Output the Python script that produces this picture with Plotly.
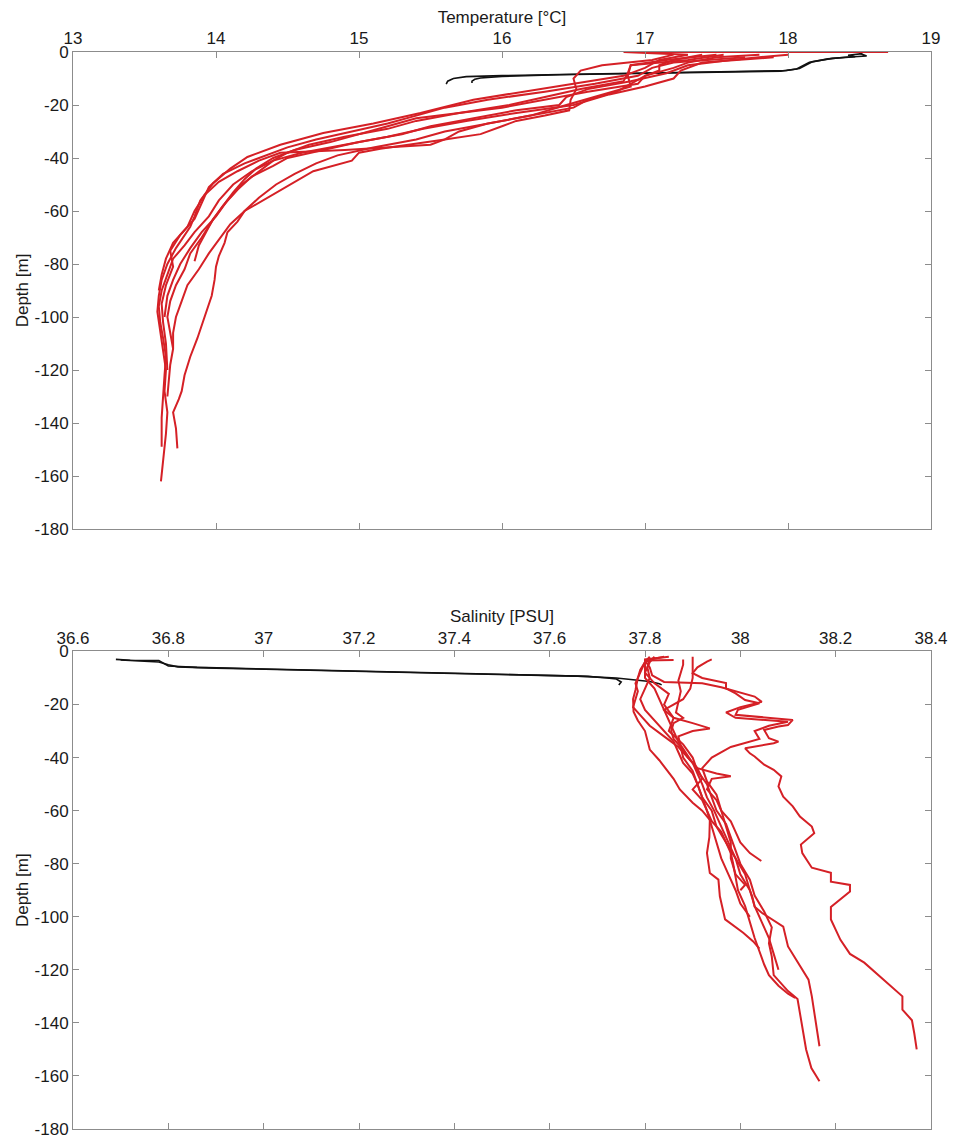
import plotly.graph_objects as go

# ---------------- Temperature casts (depth [m], temperature [°C]) ----------------
t_depth_1 = [0, 0, -1, -3, -6, -9, -12, -15, -18, -23, -27, -30.6, -35, -39.6, -44, -49.5, -56, -62, -66, -74, -80, -86, -92, -98, -105, -112, -120, -128, -136, -144, -150, -156, -162]
t_temp_1 = [18.7, 16.85, 17.3, 17.1, 17.0, 16.85, 16.5, 16.15, 15.8, 15.43, 15.1, 14.75, 14.45, 14.22, 14.1, 13.98, 13.89, 13.85, 13.82, 13.72, 13.66, 13.62, 13.6, 13.59, 13.61, 13.63, 13.65, 13.64, 13.66, 13.65, 13.64, 13.63, 13.615]

t_depth_2 = [-1, -3, -5, -9, -13, -16, -20, -24, -27, -30, -33, -36, -39, -42, -46, -50, -55, -60, -64, -68, -72, -77, -81, -86, -92, -97, -102, -108, -115, -122, -128, -131, -136, -142, -149.6]
t_temp_2 = [17.55, 17.3, 16.9, 16.88, 16.9, 16.7, 16.45, 16.2, 15.9, 15.6, 15.4, 15.1, 14.85, 14.7, 14.55, 14.42, 14.3, 14.2, 14.15, 14.08, 14.06, 14.02, 14.0, 13.99, 13.97, 13.94, 13.91, 13.87, 13.82, 13.78, 13.76, 13.74, 13.7, 13.72, 13.73]

t_depth_3 = [-2, -4, -7, -10, -13, -16, -20, -23, -26, -29, -32, -35, -38, -41, -45, -50, -56, -62, -68, -73, -78, -84, -90, -96, -102, -108, -115, -122, -130, -138, -144, -149]
t_temp_3 = [17.9, 17.4, 17.25, 17.2, 17.0, 16.75, 16.5, 16.1, 15.75, 15.45, 15.2, 14.9, 14.6, 14.4, 14.25, 14.12, 14.02, 13.95, 13.85, 13.78, 13.7, 13.66, 13.62, 13.6, 13.61, 13.63, 13.65, 13.64, 13.63, 13.62, 13.62, 13.62]

t_depth_4 = [-1, -3, -5, -7, -10, -14, -18, -22, -24, -26, -28, -31, -33, -35, -36.5, -38, -41, -45, -50, -55, -60, -65, -70, -76, -82, -88, -94, -100, -106, -112, -118, -124, -130]
t_temp_4 = [17.2, 17.05, 16.7, 16.55, 16.5, 16.52, 16.48, 16.47, 16.3, 16.1, 16.0, 15.85, 15.6, 15.35, 15.15, 15.0, 14.95, 14.68, 14.52, 14.35, 14.2, 14.1, 14.03, 13.95, 13.88, 13.8, 13.76, 13.72, 13.7, 13.7, 13.68, 13.67, 13.66]

t_depth_5 = [-1, -3, -5, -8, -11, -14, -17, -20, -22, -25, -28, -31, -34, -37, -40, -43, -47, -52, -58, -64, -70, -76, -82, -88, -94, -100, -106, -112]
t_temp_5 = [18.0, 17.6, 17.3, 17.15, 16.9, 16.6, 16.45, 16.4, 16.1, 15.8, 15.5, 15.3, 15.0, 14.75, 14.5, 14.4, 14.25, 14.15, 14.05, 13.97, 13.9, 13.82, 13.78, 13.72, 13.68, 13.66, 13.68, 13.7]

t_depth_6 = [-1, -2, -4, -6, -9, -12, -15, -18, -21, -24, -27, -30, -33, -35, -37, -38, -41, -45, -49, -54, -60, -66, -72, -78, -84, -90]
t_temp_6 = [17.8, 17.5, 17.3, 17.2, 17.0, 16.9, 16.8, 16.6, 16.5, 16.2, 15.9, 15.7, 15.6, 15.5, 14.9, 14.45, 14.3, 14.15, 14.02, 13.92, 13.85, 13.8, 13.7, 13.65, 13.62, 13.6]

t_depth_7 = [-1, -3, -5, -7, -9, -12, -15, -18, -21, -23, -25, -28, -31, -34, -37, -40, -44, -48, -53, -58, -63, -68, -73, -79]
t_temp_7 = [17.4, 17.2, 17.1, 17.1, 17.0, 16.95, 16.6, 16.3, 16.0, 15.7, 15.4, 15.2, 15.0, 14.8, 14.55, 14.4, 14.28, 14.2, 14.12, 14.05, 13.98, 13.93, 13.88, 13.85]

t_depth_8 = [-1, -3, -5, -8, -11, -14, -17, -20, -23, -26, -29, -32, -35, -38, -41, -45, -50, -56, -62, -68, -74, -80, -86, -92, -100]
t_temp_8 = [17.5, 17.15, 16.9, 16.88, 16.85, 16.55, 16.3, 16.05, 15.7, 15.4, 15.2, 14.9, 14.65, 14.5, 14.4, 14.3, 14.18, 14.08, 14.0, 13.9, 13.82, 13.75, 13.7, 13.66, 13.64]

t_depth_9 = [-2, -4, -6, -9, -12, -15, -18, -21, -24, -27, -30, -33, -36, -39, -42, -46, -51, -57, -63, -69, -75, -81, -88, -95, -102, -110, -120]
t_temp_9 = [17.7, 17.2, 17.05, 16.95, 16.65, 16.3, 15.9, 15.6, 15.4, 15.2, 14.95, 14.7, 14.5, 14.35, 14.2, 14.05, 13.95, 13.9, 13.85, 13.75, 13.68, 13.7, 13.65, 13.62, 13.63, 13.65, 13.66]

# surface (black) casts
tk_depth_1 = [-0.6, -1.2, -1.8, -2.4, -3.7, -5, -6.2, -7.0, -7.4, -7.9, -8.4, -8.9, -9.3, -10.0, -11.0, -12.1]
tk_temp_1 = [18.52, 18.42, 18.47, 18.31, 18.17, 18.12, 18.08, 17.99, 17.47, 17.0, 16.5, 16.0, 15.75, 15.66, 15.62, 15.61]
tk_depth_2 = [-0.5, -1.5, -2.0, -2.6, -3.9, -5.2, -6.4, -7.2, -7.6, -8.1, -8.6, -9.2, -9.8, -10.3, -11.0, -11.7]
tk_temp_2 = [18.5, 18.55, 18.4, 18.28, 18.15, 18.1, 18.06, 17.95, 17.4, 16.9, 16.4, 16.0, 15.85, 15.81, 15.79, 15.79]

# ---------------- Salinity casts (depth [m], salinity [PSU]) ----------------
s_depth_1 = [-2, -4, -8, -12, -16, -20, -25, -30, -35, -40, -45, -50, -55, -60, -65, -70, -75, -80, -86, -92, -98, -104, -110, -115, -122, -128, -131, -139, -150, -157, -162]
s_sal_1 = [37.82, 37.81, 37.80, 37.82, 37.85, 37.84, 37.86, 37.85, 37.88, 37.90, 37.91, 37.93, 37.94, 37.95, 37.97, 37.98, 37.99, 38.0, 38.02, 38.03, 38.05, 38.066, 38.06, 38.066, 38.07, 38.10, 38.12, 38.128, 38.138, 38.149, 38.166]

s_depth_2 = [-3, -3.8, -6, -8.2, -10, -11.9, -13.9, -15.8, -18.3, -19.5, -22, -23.9, -25.8, -27.7, -28.3, -29.6, -32.7, -34, -34.6, -36.5, -38.4, -39.6, -42.7, -44.6, -47.1, -50.9, -54.7, -58.4, -62.2, -66, -68.5, -72.8, -76, -81.5, -83.4, -86.8, -88, -90.5, -96.3, -101, -108.7, -114, -117.3, -123.7, -126.8, -130, -135, -139, -144, -150]
s_sal_2 = [37.94, 37.93, 37.91, 37.90, 37.92, 37.97, 37.97, 37.99, 38.01, 38.04, 37.995, 37.99, 38.11, 38.10, 38.08, 38.05, 38.06, 38.08, 38.07, 38.01, 38.02, 38.03, 38.05, 38.07, 38.086, 38.08, 38.09, 38.11, 38.125, 38.15, 38.155, 38.127, 38.13, 38.15, 38.19, 38.19, 38.23, 38.23, 38.19, 38.19, 38.21, 38.23, 38.26, 38.30, 38.32, 38.34, 38.34, 38.36, 38.365, 38.37]

s_depth_3 = [-2, -3, -6, -10, -14, -18, -22, -26, -30, -34, -38, -42, -46, -50, -55, -60, -66, -72, -78, -84, -90, -92.4, -96.2, -98.5, -101, -103.7, -111.2, -117.4, -123.7, -130, -136, -142.6, -148.8]
s_sal_3 = [37.84, 37.81, 37.805, 37.81, 37.80, 37.79, 37.80, 37.82, 37.84, 37.86, 37.87, 37.88, 37.90, 37.91, 37.92, 37.94, 37.95, 37.97, 37.99, 38.0, 38.02, 38.025, 38.03, 38.045, 38.066, 38.09, 38.10, 38.122, 38.143, 38.15, 38.155, 38.16, 38.166]

s_depth_4 = [-2, -4, -8, -12, -15, -18, -21, -24, -28, -32, -36, -40, -44, -48, -52, -56, -60, -64, -68, -72, -76, -80, -85, -90, -96, -102, -108, -113, -118, -122, -126, -129, -130.6]
s_sal_4 = [37.81, 37.80, 37.79, 37.78, 37.785, 37.78, 37.775, 37.79, 37.81, 37.84, 37.87, 37.89, 37.91, 37.92, 37.90, 37.92, 37.93, 37.94, 37.96, 37.97, 37.98, 37.985, 37.99, 37.995, 38.01, 38.02, 38.03, 38.04, 38.05, 38.06, 38.08, 38.10, 38.115]

s_depth_5 = [-2.5, -4, -7, -10, -14.5, -18, -22.7, -26, -30, -34, -37, -41, -44.6, -48, -52, -57, -60, -63.5, -70, -76, -83.5, -86, -92.3, -101, -106, -109.3, -112]
s_sal_5 = [37.82, 37.80, 37.79, 37.785, 37.78, 37.775, 37.776, 37.785, 37.80, 37.805, 37.81, 37.83, 37.845, 37.86, 37.873, 37.90, 37.92, 37.936, 37.935, 37.93, 37.936, 37.954, 37.957, 37.968, 38.006, 38.027, 38.04]

s_depth_6 = [-3.2, -3.4, -6, -9, -11.5, -12, -13.5, -15, -17, -19, -21, -23, -25, -26.5, -28, -30, -33, -36, -40, -44, -49, -54, -60, -66, -72, -78, -84, -88, -90]
s_sal_6 = [37.86, 37.80, 37.81, 37.815, 37.84, 37.92, 37.96, 37.99, 38.03, 38.045, 38.0, 37.97, 37.99, 38.10, 38.06, 38.03, 38.04, 37.98, 37.94, 37.92, 37.93, 37.95, 37.96, 37.97, 37.98, 37.98, 37.99, 38.01, 38.0]

s_depth_7 = [-3, -5, -8, -11, -15, -19, -23, -25, -27, -30, -33, -36, -40, -44, -46, -47, -48, -52, -56, -60, -64, -68, -72, -76, -79]
s_sal_7 = [37.88, 37.88, 37.875, 37.87, 37.875, 37.87, 37.865, 37.88, 37.86, 37.855, 37.86, 37.875, 37.89, 37.91, 37.95, 37.98, 37.94, 37.93, 37.95, 37.96, 37.98, 37.99, 38.0, 38.02, 38.044]

s_depth_8 = [-2, -4, -7, -10, -14, -18, -22, -25, -27, -29, -30, -32, -36, -40, -45, -50, -55, -60, -66, -72, -78, -84, -90, -95, -100]
s_sal_8 = [37.90, 37.90, 37.90, 37.90, 37.895, 37.88, 37.84, 37.86, 37.90, 37.936, 37.90, 37.87, 37.875, 37.88, 37.90, 37.91, 37.92, 37.93, 37.94, 37.95, 37.96, 37.975, 37.99, 38.0, 38.02]

s_depth_9 = [-2, -3, -6, -10, -14, -18, -22, -26, -30, -34, -38, -42, -46, -50, -55, -60, -66, -72, -78, -84, -90, -96, -102, -108, -114, -120]
s_sal_9 = [37.85, 37.80, 37.80, 37.80, 37.82, 37.83, 37.84, 37.85, 37.86, 37.87, 37.885, 37.90, 37.91, 37.92, 37.93, 37.945, 37.96, 37.975, 37.99, 38.01, 38.02, 38.03, 38.045, 38.06, 38.07, 38.08]

sk_depth_1 = [-3.0, -3.3, -3.4, -4.5, -5.5, -6.0, -6.8, -7.6, -8.4, -9.3, -10.0, -10.6, -11.3, -12.2, -12.6]
sk_sal_1 = [36.69, 36.72, 36.78, 36.79, 36.80, 36.86, 37.05, 37.25, 37.45, 37.66, 37.74, 37.78, 37.81, 37.83, 37.835]
sk_depth_2 = [-3.2, -3.6, -4.0, -5.0, -5.8, -6.3, -7.0, -7.8, -8.6, -9.4, -10.0, -10.4, -11.5, -12.6]
sk_sal_2 = [36.70, 36.74, 36.78, 36.80, 36.82, 36.90, 37.08, 37.28, 37.48, 37.68, 37.72, 37.74, 37.75, 37.745]

# depth tick labels (plain hyphen as in the original)
depth_tick_vals = [0, -20, -40, -60, -80, -100, -120, -140, -160, -180]
depth_tick_text = ["0", "-20", "-40", "-60", "-80", "-100", "-120", "-140", "-160", "-180"]

temp_casts = [(t_temp_1, t_depth_1), (t_temp_2, t_depth_2), (t_temp_3, t_depth_3), (t_temp_4, t_depth_4),
              (t_temp_5, t_depth_5), (t_temp_6, t_depth_6), (t_temp_7, t_depth_7), (t_temp_8, t_depth_8),
              (t_temp_9, t_depth_9)]
temp_black = [(tk_temp_1, tk_depth_1), (tk_temp_2, tk_depth_2)]
sal_casts = [(s_sal_1, s_depth_1), (s_sal_2, s_depth_2), (s_sal_3, s_depth_3), (s_sal_4, s_depth_4),
             (s_sal_5, s_depth_5), (s_sal_6, s_depth_6), (s_sal_7, s_depth_7), (s_sal_8, s_depth_8),
             (s_sal_9, s_depth_9)]
sal_black = [(sk_sal_1, sk_depth_1), (sk_sal_2, sk_depth_2)]

RED = "rgb(213,32,38)"
BLACK = "#111111"

fig = go.Figure()
for x, y in temp_black:
    fig.add_trace(go.Scatter(x=x, y=y, mode="lines", line=dict(color=BLACK, width=1.6), xaxis="x", yaxis="y"))
for x, y in temp_casts:
    fig.add_trace(go.Scatter(x=x, y=y, mode="lines", line=dict(color=RED, width=2), xaxis="x", yaxis="y"))
for x, y in sal_black:
    fig.add_trace(go.Scatter(x=x, y=y, mode="lines", line=dict(color=BLACK, width=1.6), xaxis="x2", yaxis="y2"))
for x, y in sal_casts:
    fig.add_trace(go.Scatter(x=x, y=y, mode="lines", line=dict(color=RED, width=2), xaxis="x2", yaxis="y2"))

FONT = dict(family="Liberation Sans, Arial, sans-serif", size=17, color="#1a1a1a")
AX = dict(showline=True, linecolor="#8c8c8c", linewidth=1, mirror="allticks", ticks="inside",
          ticklen=6, tickcolor="#8c8c8c", showgrid=False, zeroline=False, automargin=False,
          tickfont=FONT)
YAX = dict(AX, range=[-180, 0], tickmode="array", tickvals=depth_tick_vals, ticktext=depth_tick_text)

fig.update_layout(
    width=954, height=1142,
    margin=dict(l=73, r=23, t=52, b=13),
    paper_bgcolor="white", plot_bgcolor="white",
    showlegend=False,
    font=FONT,
    xaxis=dict(AX, domain=[0, 1], range=[13, 19], dtick=1, side="top", anchor="y",
               title=dict(text="Temperature [°C]", font=FONT, standoff=1)),
    yaxis=dict(YAX, domain=[0.5571, 1], anchor="x",
               title=dict(text="Depth [m]", font=FONT, standoff=1)),
    xaxis2=dict(AX, domain=[0, 1], range=[36.6, 38.4], dtick=0.2, side="top", anchor="y2",
                title=dict(text="Salinity [PSU]", font=FONT, standoff=1)),
    yaxis2=dict(YAX, domain=[0, 0.4434], anchor="x2",
                title=dict(text="Depth [m]", font=FONT, standoff=1)),
)

fig.write_html("out.html")
